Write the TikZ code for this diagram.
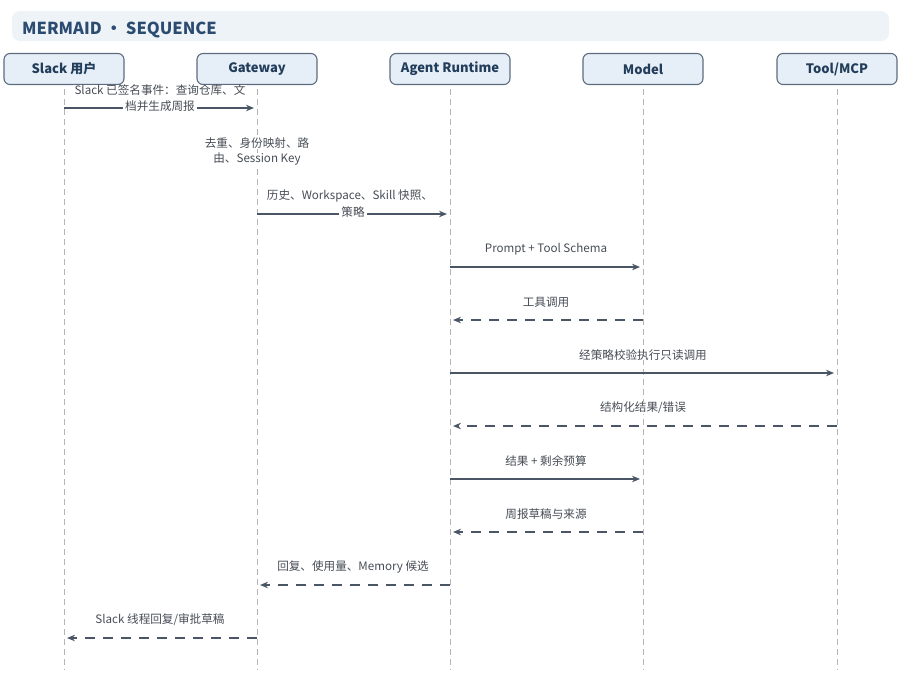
\documentclass[tikz,border=0pt]{standalone}
\usepackage{fontspec}
\setmainfont{Noto Sans CJK SC}
\usepackage{tikz}
\usetikzlibrary{arrows.meta}
\definecolor{bandbg}{HTML}{EEF3F8}
\definecolor{titleblue}{HTML}{2B4C70}
\definecolor{boxbg}{HTML}{E6EEF7}
\definecolor{boxline}{HTML}{5C6C7E}
\definecolor{msgline}{HTML}{4A5566}
\definecolor{msgtext}{HTML}{474D56}
\definecolor{lifegray}{HTML}{B4B4B4}

\begin{document}
\begin{tikzpicture}[x=1pt, y=-1pt,
  actor/.style = {draw=boxline, fill=boxbg, rounded corners=6pt, line width=1.1pt,
    minimum width=120pt, minimum height=31pt, font=\fontsize{13}{15}\selectfont\bfseries, text=titleblue!80!black},
  lifeline/.style = {draw=lifegray, line width=0.9pt, dash pattern=on 6pt off 4pt},
  call/.style = {draw=msgline, line width=1.7pt, shorten >=3pt, -{Stealth[length=8pt,width=6.5pt]}},
  reply/.style = {call, dash pattern=on 10pt off 8pt},
  msg/.style = {fill=white, inner xsep=2pt, inner ysep=0pt, text=msgtext, font=\fontsize{11.6}{14}\selectfont}]
\useasboundingbox (0,0) rectangle (900,694);

% header band
\fill[bandbg, rounded corners=8pt] (12,11) rectangle (889,41);
\node[anchor=west, inner sep=0pt, text=titleblue, font=\fontsize{16.5}{18}\selectfont\bfseries] (title) at (22,30) {MERMAID · SEQUENCE};

% participants
\node[actor] (user) at (64,69) {Slack 用户};
\node[actor] (gw) at (257,69) {Gateway};
\node[actor] (rt) at (450,69) {Agent Runtime};
\node[actor] (model) at (643,69) {Model};
\node[actor] (tool) at (837,69) {Tool/MCP};

\foreach \p in {user,gw,rt,model,tool}
  \draw[lifeline] ([yshift=-4pt]\p.south) -- (\p |- 0,670);

% message rows
\coordinate (r1) at (0,108);
\coordinate (r3) at (0,214);
\coordinate (r4) at (0,267);
\coordinate (r5) at (0,320);
\coordinate (r6) at (0,373);
\coordinate (r7) at (0,426);
\coordinate (r8) at (0,479);
\coordinate (r9) at (0,532);
\coordinate (r10) at (0,585);
\coordinate (r11) at (0,638);

\draw[call] (user |- r1) -- (gw |- r1);
\node[msg] (l1a) at (160,90) {Slack 已签名事件：查询仓库、文};
\node[msg] (l1b) at (160,106) {档并生成周报};

% self step at the gateway
\node[msg] (l2a) at (257,143) {去重、身份映射、路};
\node[msg] (l2b) at (257,159) {由、Session Key};

\draw[call] (gw |- r3) -- (rt |- r3);
\node[msg] (l3a) at (350,196) {历史、Workspace、Skill 快照、};
\node[msg] (l3b) at (353,212) {策略};

\draw[call] (rt |- r4) -- (model |- r4);
\node[msg] (l4) at (546,249) {Prompt + Tool Schema};

\draw[reply] (model |- r5) -- (rt |- r5);
\node[msg] (l5) at (546,302) {工具调用};

\draw[call] (rt |- r6) -- (tool |- r6);
\node[msg] (l6) at (643,355) {经策略校验执行只读调用};

\draw[reply] (tool |- r7) -- (rt |- r7);
\node[msg] (l7) at (643,408) {结构化结果/错误};

\draw[call] (rt |- r8) -- (model |- r8);
\node[msg] (l8) at (546,461) {结果 + 剩余预算};

\draw[reply] (model |- r9) -- (rt |- r9);
\node[msg] (l9) at (546,514) {周报草稿与来源};

\draw[reply] (rt |- r10) -- (gw |- r10);
\node[msg] (l10) at (353,567) {回复、使用量、Memory 候选};

\draw[reply] (gw |- r11) -- (user |- r11);
\node[msg] (l11) at (160,620) {Slack 线程回复/审批草稿};
\end{tikzpicture}
\end{document}
